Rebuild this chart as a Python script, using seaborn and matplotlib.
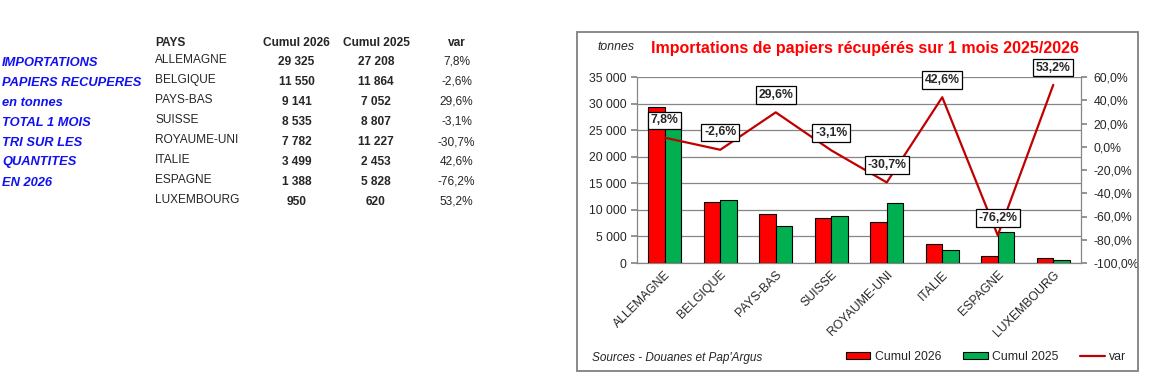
import numpy as np
import pandas as pd
import matplotlib
matplotlib.use("Agg")
import matplotlib.pyplot as plt
from matplotlib.patches import Patch, Rectangle
from matplotlib.lines import Line2D
from matplotlib.ticker import FuncFormatter, MultipleLocator
import seaborn as sns

# ---------------- data ----------------
pays = ["ALLEMAGNE", "BELGIQUE", "PAYS-BAS", "SUISSE", "ROYAUME-UNI", "ITALIE", "ESPAGNE", "LUXEMBOURG"]
cumul_2026 = [29325, 11550, 9141, 8535, 7782, 3499, 1388, 950]
cumul_2025 = [27208, 11864, 7052, 8807, 11227, 2453, 5828, 620]
var_pct = [7.8, -2.6, 29.6, -3.1, -30.7, 42.6, -76.2, 53.2]
side_text = ["IMPORTATIONS", "PAPIERS RECUPERES", "en tonnes", "TOTAL 1 MOIS",
             "TRI SUR LES", "QUANTITES", "EN 2026"]
title = "Importations de papiers récupérés sur 1 mois 2025/2026"
source = "Sources - Douanes et Pap'Argus"

sns.set_theme(style="white")
plt.rcParams['font.family'] = ['Liberation Sans', 'DejaVu Sans']

RED = "#FF0000"
GREEN = "#00B050"
LINE = "#C00000"
BLUE = "#1010F0"
GRID = "#868686"

fig = plt.figure(figsize=(11.52, 3.84), dpi=100)

def fmt_int(v):
    return f"{int(v):,}".replace(",", " ")

def fmt_pct(v):
    return f"{v:.1f}%".replace(".", ",")

W, H = 1152, 384
def fx(px):
    return px / W
def fy(py):
    return 1 - py / H

# ---------------- left table ----------------
fs_tab = 8.6
fig.text(fx(155), fy(42.5), "PAYS", fontsize=fs_tab, fontweight="bold", va="center", ha="left")
fig.text(fx(296), fy(42.5), "Cumul 2026", fontsize=fs_tab, fontweight="bold", va="center", ha="center")
fig.text(fx(376), fy(42.5), "Cumul 2025", fontsize=fs_tab, fontweight="bold", va="center", ha="center")
fig.text(fx(457), fy(42.5), "var", fontsize=fs_tab, fontweight="bold", va="center", ha="center")
for i, p in enumerate(pays):
    y = 62 + 20 * i
    fig.text(fx(155), fy(y - 2), p, fontsize=fs_tab, va="center", ha="left")
    fig.text(fx(296.5), fy(y), fmt_int(cumul_2026[i]), fontsize=fs_tab, fontweight="bold", va="center", ha="center")
    fig.text(fx(376), fy(y), fmt_int(cumul_2025[i]), fontsize=fs_tab, fontweight="bold", va="center", ha="center")
    fig.text(fx(456.5), fy(y), fmt_pct(var_pct[i]), fontsize=fs_tab, va="center", ha="center")
for i, t in enumerate(side_text):
    fig.text(fx(2), fy(62.5 + 20 * i), t, fontsize=9.3, fontweight="bold", fontstyle="italic",
             color=BLUE, va="center", ha="left")

# ---------------- chart frame ----------------
fig.patches.append(Rectangle((fx(577), fy(371)), fx(1138) - fx(577), fy(32) - fy(371),
                             transform=fig.transFigure, fill=False, edgecolor="#808080",
                             linewidth=1.3, zorder=0))

ax = fig.add_axes([fx(637), fy(263), fx(1081) - fx(637), fy(77) - fy(263)])
df = pd.DataFrame({
    "pays": pays * 2,
    "valeur": cumul_2026 + cumul_2025,
    "serie": ["Cumul 2026"] * len(pays) + ["Cumul 2025"] * len(pays),
})
sns.barplot(data=df, x="pays", y="valeur", hue="serie", palette=[RED, GREEN], saturation=1,
            width=0.6, edgecolor="black", linewidth=0.8, ax=ax, legend=False, zorder=3)
ax.set_xlim(-0.5, len(pays) - 0.5)
ax.set_ylim(0, 35000)
ax.yaxis.set_major_locator(MultipleLocator(5000))
ax.yaxis.set_major_formatter(FuncFormatter(lambda v, p: fmt_int(v)))
ax.grid(axis="y", color=GRID, linewidth=0.9, zorder=0)
ax.set_axisbelow(True)
ax.set_xlabel("")
ax.set_ylabel("")
for s in ["top", "right"]:
    ax.spines[s].set_visible(False)
for s in ["left", "bottom"]:
    ax.spines[s].set_color(GRID)
    ax.spines[s].set_linewidth(0.9)
ax.tick_params(axis="y", labelsize=8.8, length=4, color=GRID, direction="out", left=True, pad=3.5)
ax.tick_params(axis="x", labelsize=8.8, length=0, pad=4)
plt.setp(ax.get_xticklabels(), rotation=45, ha="right", rotation_mode="anchor")
ax.patch.set_alpha(0)

ax2 = ax.twinx()
xpos = np.arange(len(pays))
sns.lineplot(x=xpos, y=var_pct, ax=ax2, color=LINE, linewidth=1.6, zorder=4)
ax2.set_ylim(-100, 60)
ax2.yaxis.set_major_locator(MultipleLocator(20))
ax2.yaxis.set_major_formatter(FuncFormatter(lambda v, p: fmt_pct(v)))
ax2.tick_params(axis="y", labelsize=8.8, length=4, color=GRID, direction="out", right=True, pad=5)
for s in ["top", "left", "bottom"]:
    ax2.spines[s].set_visible(False)
ax2.spines["right"].set_color(GRID)
ax2.spines["right"].set_linewidth(0.9)
ax2.grid(False)
for x, v in zip(xpos, var_pct):
    ax2.annotate(fmt_pct(v), (x, v), xytext=(0, 12.5), textcoords="offset points",
                 ha="center", va="center", fontsize=8.8, fontweight="bold",
                 bbox=dict(boxstyle="square,pad=0.22", facecolor="white", edgecolor="black", linewidth=0.9),
                 zorder=6, annotation_clip=False)

fig.text(fx(651), fy(49), title, fontsize=11.5, fontweight="bold", color="#FF0000", ha="left", va="center")
fig.text(fx(597), fy(47.5), "tonnes", fontsize=8.8, fontstyle="italic", ha="left", va="center")
fig.text(fx(592), fy(358), source, fontsize=8.5, fontstyle="italic", ha="left", va="center")

handles = [Patch(facecolor=RED, edgecolor="black", linewidth=0.8),
           Patch(facecolor=GREEN, edgecolor="black", linewidth=0.8),
           Line2D([0], [0], color=LINE, linewidth=1.6)]
fig.legend(handles, ["Cumul 2026", "Cumul 2025", "var"], ncol=3, frameon=False,
           loc="center", bbox_to_anchor=(fx(986), fy(357)), fontsize=8.8,
           handlelength=2.0, handleheight=0.55, handletextpad=0.35, columnspacing=1.8,
           borderpad=0, borderaxespad=0)

fig.savefig("out.png", dpi=100)
